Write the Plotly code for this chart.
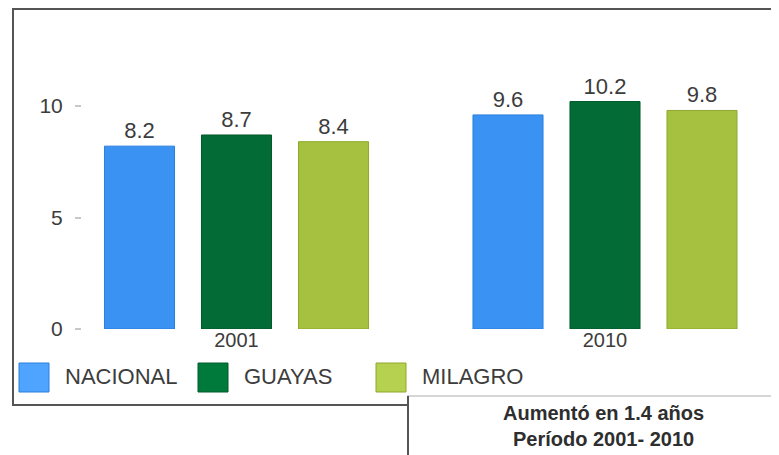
import plotly.graph_objects as go

# ---- data ----
categories = ["2001", "2010"]
series_names = ["NACIONAL", "GUAYAS", "MILAGRO"]
nacional = [8.2, 9.6]
guayas = [8.7, 10.2]
milagro = [8.4, 9.8]
y_ticks = [0, 5, 10]
note_lines = ["Aumentó en 1.4 años", "Período 2001- 2010"]

series_values = [nacional, guayas, milagro]
fill_colors = ["#3a92f2", "#036b35", "#a6c13f"]
line_colors = ["#2a7fdc", "#02592c", "#8fa82e"]
legend_fill = ["#4ea4ff", "#007a3b", "#b6d14f"]

# the page body adds an 8px margin; layout positions below are in window pixels
OFF = 8
W, H = 779 - OFF, 455 - OFF
PLOT_L, PLOT_R, PLOT_T, PLOT_B = 82, 760, 72, 329  # window pixels
L, R, T, B = PLOT_L - OFF, W - (PLOT_R - OFF), PLOT_T - OFF, H - (PLOT_B - OFF)
PW, PH = W - L - R, H - T - B


def px(xp):
    return (xp - PLOT_L) / PW


def py(yp):
    return (PLOT_B - yp) / PH


FONT = "Liberation Sans, Arial, sans-serif"
TXT = "#3c3c3c"

fig = go.Figure()
for name, vals, fc, lc in zip(series_names, series_values, fill_colors, line_colors):
    fig.add_trace(go.Bar(
        x=categories, y=vals, name=name,
        marker=dict(color=fc, line=dict(color=lc, width=1)),
        text=[f"{v:.1f}" for v in vals], textposition="outside",
        textfont=dict(family=FONT, size=22, color=TXT),
        cliponaxis=False, showlegend=False,
    ))

shapes = []
annotations = []

# outer frame
shapes.append(dict(type="rect", xref="paper", yref="paper",
                   x0=px(13), x1=px(777), y0=py(405), y1=py(9),
                   line=dict(color="#555555", width=2), fillcolor="rgba(0,0,0,0)", layer="below"))

# custom legend (large swatches)
sw_x = [19, 198, 376]
tx_x = [63, 242, 420]
for name, fc, lc, sx, tx in zip(series_names, legend_fill, line_colors, sw_x, tx_x):
    shapes.append(dict(type="rect", xref="paper", yref="paper",
                       x0=px(sx), x1=px(sx + 30), y0=py(392), y1=py(363),
                       line=dict(color=lc, width=1), fillcolor=fc))
    annotations.append(dict(xref="paper", yref="paper", x=px(tx), y=py(376),
                            xanchor="left", yanchor="middle", showarrow=False,
                            text=name, font=dict(family=FONT, size=22, color=TXT)))

# note box
shapes.append(dict(type="rect", xref="paper", yref="paper",
                   x0=px(408), x1=px(800), y0=py(480), y1=py(396),
                   line=dict(color="#d6d6d6", width=2), fillcolor="white"))
shapes.append(dict(type="line", xref="paper", yref="paper",
                   x0=px(408), x1=px(408), y0=py(480), y1=py(396),
                   line=dict(color="#555555", width=2)))
annotations.append(dict(xref="paper", yref="paper", x=px(603), y=py(426),
                        xanchor="center", yanchor="middle", showarrow=False,
                        text="<b>" + note_lines[0] + "</b><br><b>" + note_lines[1] + "</b>",
                        font=dict(family=FONT, size=20, color="#2e2e2e"), align="center"))

fig.update_layout(
    width=W, height=H,
    margin=dict(l=L, r=R, t=T, b=B),
    paper_bgcolor="white", plot_bgcolor="white",
    barmode="group", bargap=0.2103, bargroupgap=0.278,
    showlegend=False,
    shapes=shapes, annotations=annotations,
    xaxis=dict(type="category", range=[(PLOT_L - 236.5) / 368.5, (PLOT_R - 236.5) / 368.5],
               showgrid=False, zeroline=False, showline=False, ticks="",
               ticklabelstandoff=-3,
               tickfont=dict(family=FONT, size=20, color=TXT)),
    yaxis=dict(range=[0, PH / 22.3], tickvals=y_ticks, ticktext=[str(v) for v in y_ticks],
               showgrid=False, zeroline=False, showline=False,
               ticks="outside", ticklen=6, tickwidth=2, tickcolor="#c8c8c8",
               ticklabelstandoff=8,
               tickfont=dict(family=FONT, size=21, color=TXT)),
)

fig.write_html("out.html")
